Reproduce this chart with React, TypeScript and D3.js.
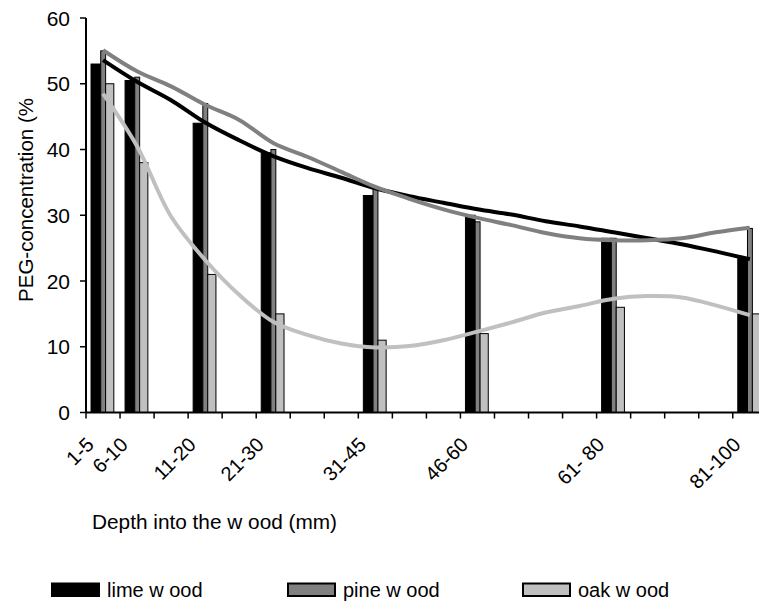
import React from "react";
import * as d3 from "d3";

// ---- data ----
const categories = ["1-5", "6-10", "11-20", "21-30", "31-45", "46-60", "61- 80", "81-100"];
const depthEnd = [5, 10, 20, 30, 45, 60, 80, 100];
const limeValues = [53, 50.5, 44, 39.5, 33, 30, 26.5, 23.5];
const pineValues = [55, 51, 47, 40, 34, 29, 26.5, 28];
const oakValues = [50, 38, 21, 15, 11, 12, 16, 15];

// trendline samples at depth bin centres (2.5, 7.5, ..., 97.5 mm)
const trendDepths = [2.5, 7.5, 12.5, 17.5, 22.5, 27.5, 32.5, 37.5, 42.5, 47.5, 52.5, 57.5, 62.5, 67.5, 72.5, 77.5, 82.5, 87.5, 92.5, 97.5];
const limeTrend = [53.6, 50.3, 47.5, 44.1, 41.4, 39.0, 37.2, 35.7, 34.1, 32.9, 31.9, 30.9, 30.1, 29.1, 28.3, 27.4, 26.5, 25.6, 24.5, 23.3];
const pineTrend = [55.1, 51.9, 49.6, 46.8, 44.5, 41.0, 38.9, 36.6, 34.3, 32.5, 30.9, 29.6, 28.5, 27.3, 26.5, 26.2, 26.2, 26.5, 27.4, 28.1];
const oakTrend = [48.5, 40.5, 29.8, 23.2, 17.9, 13.8, 11.8, 10.5, 9.9, 10.1, 11.0, 12.3, 13.7, 15.2, 16.2, 17.3, 17.7, 17.5, 16.3, 14.8];

const yTicks = [0, 10, 20, 30, 40, 50, 60];
const legendLabels = ["lime w ood", "pine w ood", "oak w ood"];
const seriesColors = ["#000000", "#808080", "#c0c0c0"];

const W = 759;
const H = 603;
const FONT = "'Liberation Sans', Arial, Helvetica, sans-serif";

export default function App() {
  const x = d3.scaleLinear().domain([0, 100]).range([86, 766.8]);
  const y = d3.scaleLinear().domain([0, 60]).range([412.5, 18]);

  const series = [limeValues, pineValues, oakValues];
  const trends = [limeTrend, pineTrend, oakTrend];
  // bar placement within a depth bin (style)
  const barSlots = [
    { dx: -12, w: 9.7 },
    { dx: -2.3, w: 4.9 },
    { dx: 2.6, w: 8.2 },
  ];

  const line = d3
    .line<number>()
    .x((_, i) => x(trendDepths[i]))
    .y((d) => y(d))
    .curve(d3.curveCatmullRom.alpha(0.5));

  const xTickVals = d3.range(0, 101, 5);

  return (
    <svg
      width={W}
      height={H}
      style={{ position: "absolute", left: 0, top: 0, background: "#fff" }}
      fontFamily={FONT}
    >
      <rect x={0} y={0} width={W} height={H} fill="#fff" />

      {/* bars */}
      {series.map((vals, si) =>
        vals.map((v, ci) => {
          const cx = x(depthEnd[ci] - 2.5);
          const s = barSlots[si];
          return (
            <rect
              key={`b${si}-${ci}`}
              x={cx + s.dx}
              y={y(v)}
              width={s.w}
              height={y(0) - y(v)}
              fill={seriesColors[si]}
              stroke="#000"
              strokeWidth={1}
            />
          );
        })
      )}

      {/* trend lines */}
      {trends.map((t, si) => (
        <path
          key={`l${si}`}
          d={line(t) || ""}
          fill="none"
          stroke={seriesColors[si]}
          strokeWidth={4}
          strokeLinejoin="round"
        />
      ))}

      {/* y axis */}
      <line x1={86} x2={86} y1={y(60)} y2={y(0)} stroke="#000" strokeWidth={2} />
      {yTicks.map((t) => (
        <g key={`yt${t}`}>
          <line x1={80} x2={86} y1={y(t)} y2={y(t)} stroke="#000" strokeWidth={1.5} />
          <text x={70} y={y(t)} dy="0.36em" textAnchor="end" fontSize={21} fill="#000">
            {t}
          </text>
        </g>
      ))}

      {/* x axis */}
      <line x1={86} x2={W} y1={y(0)} y2={y(0)} stroke="#000" strokeWidth={2} />
      {xTickVals.map((t) => (
        <line key={`xt${t}`} x1={x(t)} x2={x(t)} y1={y(0)} y2={y(0) + 6} stroke="#000" strokeWidth={1.5} />
      ))}
      {categories.map((c, i) => {
        const cx = x(depthEnd[i] - 2.5) - 8;
        return (
          <text
            key={`xl${i}`}
            transform={`translate(${cx},${446}) rotate(-45)`}
            textAnchor="end"
            fontSize={20}
            fill="#000"
          >
            {c}
          </text>
        );
      })}

      {/* axis titles */}
      <text x={92} y={529} fontSize={20.8} fill="#000">
        Depth into the w ood (mm)
      </text>
      <text transform="translate(32.5,200) rotate(-90)" textAnchor="middle" fontSize={20.5} fill="#000">
        PEG-concentration (%
      </text>

      {/* legend */}
      {legendLabels.map((l, i) => {
        const lx = [52, 288, 523][i];
        return (
          <g key={`lg${i}`}>
            <rect x={lx} y={583.5} width={47} height={12.5} fill={seriesColors[i]} stroke="#000" strokeWidth={2} />
            <text x={lx + 55} y={597} fontSize={20} fill="#000">
              {l}
            </text>
          </g>
        );
      })}
    </svg>
  );
}
